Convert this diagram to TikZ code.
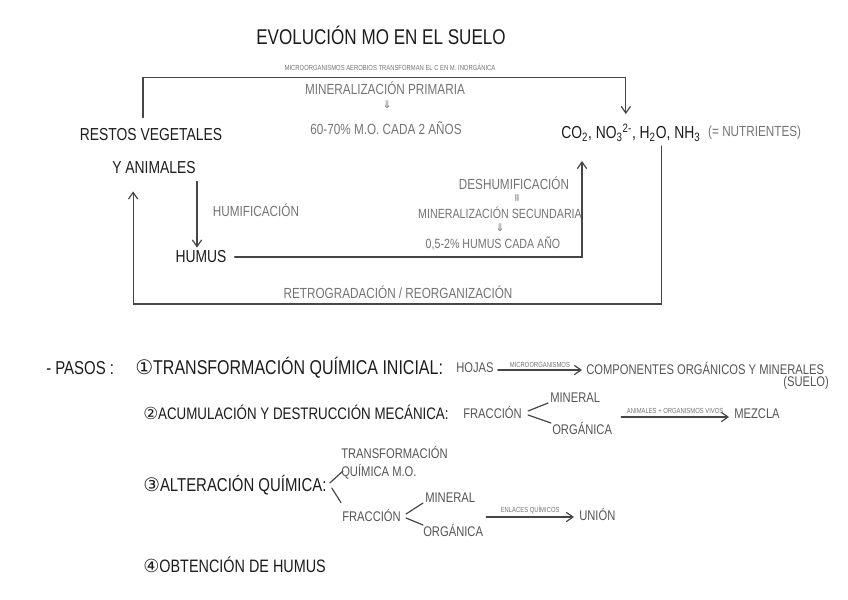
\documentclass[tikz,border=0pt]{standalone}
\usepackage{fontspec}
\usetikzlibrary{arrows.meta,calc,positioning}
\newfontfamily\mano[FakeStretch=0.8]{Liberation Sans}
\newfontfamily\simb{DejaVu Sans}
\definecolor{tinta}{RGB}{28,28,28}
\definecolor{lapiz}{RGB}{115,115,115}
\definecolor{lapizosc}{RGB}{85,85,85}
\definecolor{trazo}{RGB}{70,70,70}

\tikzset{
  titulo/.style={inner sep=0.75pt, text=tinta, font=\mano\fontsize{16}{18}\selectfont},
  paso/.style={inner sep=0.75pt, text=tinta, font=\mano\fontsize{14}{16}\selectfont},
  negro/.style={inner sep=0.75pt, text=tinta, font=\mano\fontsize{13}{15}\selectfont},
  gris/.style={inner sep=0.75pt, text=lapiz, font=\mano\fontsize{11}{13}\selectfont},
  grisp/.style={inner sep=0.75pt, text=lapiz, font=\mano\fontsize{10}{12}\selectfont},
  grisb/.style={inner sep=0.75pt, text=lapizosc, font=\mano\fontsize{10.5}{13.5}\selectfont},
  nota/.style={inner sep=0.75pt, text=lapiz, font=\mano\fontsize{5.5}{6}\selectfont},
  flechita/.style={inner sep=0.75pt, text=lapiz, font=\simb\fontsize{8}{9}\selectfont},
  linea/.style={draw=trazo, line width=0.9pt, line cap=round},
  flecha/.style={linea, -{Straight Barb[length=5pt,width=7pt]}},
}

\begin{document}
\begin{tikzpicture}[x=0.75pt,y=0.75pt,yscale=-1,xscale=1]
\path[use as bounding box] (0,0) rectangle (848,599);

% Title
\node[titulo] (titulo) at (381,35) {EVOLUCIÓN MO EN EL SUELO};

% Cycle: nodes
\node[negro] (restos) at (151,135) {RESTOS VEGETALES};
\node[negro] (animales) at (154,168) {Y ANIMALES};
\node[negro, anchor=west] (nutri) at (560,133) {CO\textsubscript{2}, NO\textsubscript{3}\textsuperscript{2-}, H\textsubscript{2}O, NH\textsubscript{3}};
\node[gris, right=4pt of nutri] (nutrientes) {(= NUTRIENTES)};
\node[negro] (humus) at (201,257) {HUMUS};

% Cycle: labels
\node[nota] (aerobios) at (390,67) {MICROORGANISMOS AEROBIOS TRANSFORMAN EL C EN M. INORGÁNICA};
\node[gris] (minprim) at (385,88) {MINERALIZACIÓN PRIMARIA};
\node[flechita] (fluno) at (387,105) {⇓};
\node[gris] (ritmouno) at (386,128) {60-70\% M.O. CADA 2 AÑOS};
\node[gris] (humif) at (256,210) {HUMIFICACIÓN};
\node[gris] (deshum) at (514,183) {DESHUMIFICACIÓN};
\node[flechita, rotate=90] (igual) at (518,198) {=};
\node[grisp] (minsec) at (500,213) {MINERALIZACIÓN SECUNDARIA};
\node[flechita] (fldos) at (500,228) {⇓};
\node[grisp] (ritmodos) at (493,243) {0,5-2\% HUMUS CADA AÑO};
\node[gris] (retro) at (398,292) {RETROGRADACIÓN / REORGANIZACIÓN};

% Cycle: connectors
\draw[flecha] ($(restos.north)+(-8,-10)$) -- ++(0,-40) -| ($(nutri.north)+(-5,-9)$);
\draw[flecha] ($(animales.south -| humus.north)+(-4,6)$) -- ($(humus.north)+(-4,-2)$);
\draw[flecha] ($(humus.east)+(7,0)$) -| ($(nutri.south west)+(22,18)$);
\draw[flecha] ($(nutri.south east)+(-40,3)$) -- ++(0,158) -| ($(animales.south west)+(22,16)$);

% Steps
\node[paso, anchor=west] (pasos) at (45,368) {- PASOS :};
\node[paso, anchor=west, font=\mano\fontsize{15}{17}\selectfont] (pasouno) at (134,368) {{\simb ①}TRANSFORMACIÓN QUÍMICA INICIAL:};
\node[grisb, anchor=west] (hojas) at (455,368) {HOJAS};
\node[grisb, anchor=west] (compon) at (585,368) {COMPONENTES ORGÁNICOS Y MINERALES};
\node[grisb, anchor=east] (suelo) at (830,383) {(SUELO)};
\draw[flecha] ($(hojas.east)+(3,2)$) -- ($(compon.west)+(-3,2)$) node[nota, midway, above=1pt] {MICROORGANISMOS};

\node[paso, anchor=west, font=\mano\fontsize{12.5}{15}\selectfont] (pasodos) at (142,412) {{\simb ②}ACUMULACIÓN Y DESTRUCCIÓN MECÁNICA:};
\node[grisb, anchor=west] (fracuno) at (462,412) {FRACCIÓN};
\node[grisb, anchor=west] (minuno) at (549,398) {MINERAL};
\node[grisb, anchor=west] (orguno) at (551,428) {ORGÁNICA};
\node[grisb, anchor=west] (mezcla) at (733,414) {MEZCLA};
\draw[linea] ($(fracuno.east)+(5,-1)$) -- ($(minuno.west)+(-1,5)$);
\draw[linea] ($(fracuno.east)+(5,3)$) -- ($(orguno.west)+(0,-5)$);
\draw[flecha] ($(orguno.east |- mezcla.west)+(8,3)$) -- ($(mezcla.west)+(-4,3)$) node[nota, midway, above=1pt] {ANIMALES + ORGANISMOS VIVOS};

\node[paso, anchor=west] (pasotres) at (142,485) {{\simb ③}ALTERACIÓN QUÍMICA:};
\node[grisb, anchor=west, align=left] (transf) at (340,463) {TRANSFORMACIÓN\\QUÍMICA M.O.};
\node[grisb, anchor=west] (fracdos) at (341,515) {FRACCIÓN};
\node[grisb, anchor=west] (mindos) at (424,498) {MINERAL};
\node[grisb, anchor=west] (orgdos) at (422,530) {ORGÁNICA};
\node[grisb, anchor=west] (union) at (578,514) {UNIÓN};
\draw[linea] ($(pasotres.east)+(2,-2)$) -- ($(transf.west)+(3,8)$);
\draw[linea] ($(pasotres.east)+(4,3)$) -- ($(fracdos.north west)+(0,-5)$);
\draw[linea] ($(fracdos.east)+(4,-1)$) -- ($(mindos.west)+(-1,5)$);
\draw[linea] ($(fracdos.east)+(4,3)$) -- ($(orgdos.west)+(1,-5)$);
\draw[flecha] ($(orgdos.east |- union.west)+(2,3)$) -- ($(union.west)+(-4,3)$) node[nota, midway, above=1pt] {ENLACES QUÍMICOS};

\node[paso, anchor=west, font=\mano\fontsize{13.5}{16}\selectfont] (pasocuatro) at (142,565) {{\simb ④}OBTENCIÓN DE HUMUS};
\end{tikzpicture}
\end{document}
